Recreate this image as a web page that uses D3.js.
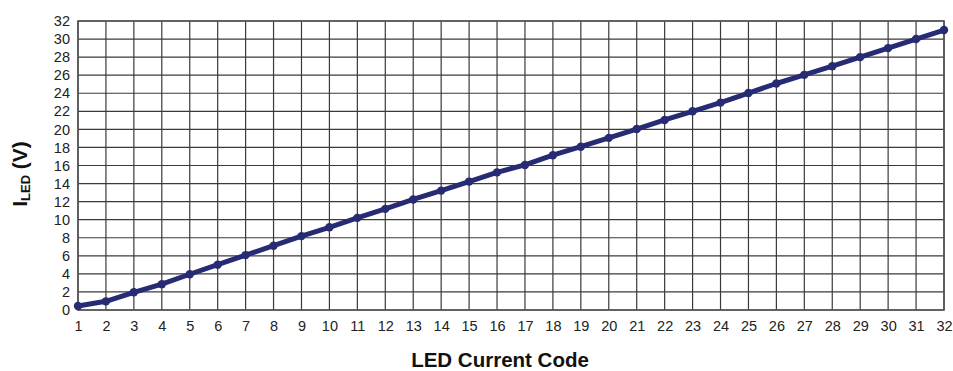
<!DOCTYPE html>
<html>
<head>
<meta charset="utf-8">
<script src="https://cdn.jsdelivr.net/npm/d3@7"></script>
<style>
  html, body { margin: 0; padding: 0; background: #fff; }
  svg { display: block; font-family: "Liberation Sans", Arial, sans-serif; }
</style>
</head>
<body>
<svg id="chart" width="953" height="371"></svg>
<script>
// LED current code vs. I_LED
const codes = d3.range(1, 33);
const iled = [0.44, 0.96, 1.96, 2.86, 3.96, 5.02, 6.08, 7.12, 8.18, 9.16,
              10.2, 11.2, 12.24, 13.22, 14.22, 15.24, 16.06, 17.14, 18.08, 19.06,
              20.04, 21.04, 22.0, 22.96, 24.02, 25.08, 26.04, 27.0, 28.0, 29.0,
              30.0, 31.0];
const yTicks = d3.range(0, 33, 2);
const xTicks = d3.range(1, 33);

const margin = { left: 78, top: 21, right: 9, bottom: 61 };
const W = 953, H = 371;
const svg = d3.select("#chart");

const x = d3.scaleLinear().domain([1, 32]).range([margin.left, W - margin.right]);
const y = d3.scaleLinear().domain([0, 32]).range([H - margin.bottom, margin.top]);

// grid
const grid = svg.append("g");
grid.selectAll("line.v").data(xTicks).join("line")
  .attr("x1", d => x(d)).attr("x2", d => x(d))
  .attr("y1", y(0)).attr("y2", y(32))
  .attr("stroke", "#3a3a3a").attr("stroke-width", 1.2);
grid.selectAll("line.h").data(yTicks).join("line")
  .attr("x1", x(1)).attr("x2", x(32))
  .attr("y1", d => y(d)).attr("y2", d => y(d))
  .attr("stroke", "#3a3a3a").attr("stroke-width", 1.2);

svg.append("rect")
  .attr("x", x(1)).attr("y", y(32))
  .attr("width", x(32) - x(1)).attr("height", y(0) - y(32))
  .attr("fill", "none").attr("stroke", "#555").attr("stroke-width", 1.6);

// axes
const yAxis = svg.append("g")
  .attr("transform", `translate(${x(1)},0)`)
  .call(d3.axisLeft(y).tickValues(yTicks).tickSize(0).tickPadding(8));
const xAxis = svg.append("g")
  .attr("transform", `translate(0,${y(0)})`)
  .call(d3.axisBottom(x).tickValues(xTicks).tickSize(0).tickPadding(11));
[yAxis, xAxis].forEach(a => {
  a.select(".domain").remove();
  a.selectAll("text").attr("font-size", 14.5).attr("fill", "#222")
    .attr("font-family", "'Liberation Sans', Arial, sans-serif");
});

// series
const pts = codes.map((c, i) => [c, iled[i]]);
svg.append("path")
  .datum(pts)
  .attr("fill", "none")
  .attr("stroke", "#272b74")
  .attr("stroke-width", 5)
  .attr("stroke-linejoin", "round")
  .attr("d", d3.line().x(d => x(d[0])).y(d => y(d[1])));
svg.append("g").selectAll("circle").data(pts).join("circle")
  .attr("cx", d => x(d[0])).attr("cy", d => y(d[1]))
  .attr("r", 4.2).attr("fill", "#272b74");

// titles
svg.append("text")
  .attr("x", 500).attr("y", 367)
  .attr("text-anchor", "middle")
  .attr("font-size", 20.5).attr("font-weight", "bold").attr("fill", "#111")
  .text("LED Current Code");

const yt = svg.append("text")
  .attr("transform", `translate(27,174) rotate(-90)`)
  .attr("text-anchor", "middle")
  .attr("font-weight", "bold").attr("fill", "#111");
yt.append("tspan").attr("font-size", 21).text("I");
yt.append("tspan").attr("font-size", 13).attr("dy", 3).text("LED");
yt.append("tspan").attr("font-size", 21).attr("dy", -3).text(" (V)");
</script>
</body>
</html>
